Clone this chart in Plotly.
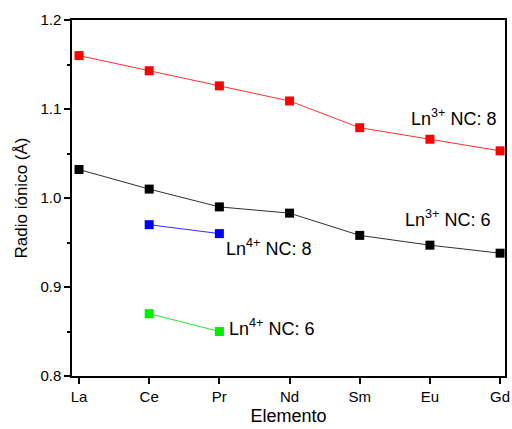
import plotly.graph_objects as go

elements = ["La", "Ce", "Pr", "Nd", "Sm", "Eu", "Gd"]
ln3_nc8 = [1.160, 1.143, 1.126, 1.109, 1.079, 1.066, 1.053]
ln3_nc6 = [1.032, 1.010, 0.990, 0.983, 0.958, 0.947, 0.938]
ln4_el = ["Ce", "Pr"]
ln4_nc8 = [0.970, 0.960]
ln4_nc6 = [0.870, 0.850]

xi = {e: i for i, e in enumerate(elements)}

fig = go.Figure()

def add(xs, ys, color, lcolor):
    fig.add_trace(go.Scatter(
        x=[xi[e] for e in xs], y=ys, mode="lines+markers",
        line=dict(color=lcolor, width=1),
        marker=dict(symbol="square", size=9, color=color, line=dict(width=0)),
        showlegend=False, cliponaxis=False))

add(elements, ln3_nc8, "#ff0000", "#ff3030")
add(elements, ln3_nc6, "#000000", "#303030")
add(ln4_el, ln4_nc8, "#0000ff", "#3030ff")
add(ln4_el, ln4_nc6, "#00ee00", "#30e030")

font = "Arial, 'Liberation Sans', sans-serif"
labels = [
    (4.70, 1.091, "Ln<sup>3+</sup> NC: 8"),
    (4.62, 0.977, "Ln<sup>3+</sup> NC: 6"),
    (2.06, 0.944, "Ln<sup>4+</sup> NC: 8"),
    (2.11, 0.854, "Ln<sup>4+</sup> NC: 6"),
]
for x, y, t in labels:
    fig.add_annotation(x=x, y=y, xref="x", yref="y", text=t, showarrow=False,
                       xanchor="left", yanchor="middle",
                       font=dict(family=font, size=18, color="black"))

fig.update_layout(
    width=512, height=429,
    margin=dict(l=72, r=2, t=20, b=53),
    plot_bgcolor="white", paper_bgcolor="white",
    font=dict(family=font, color="black"),
)
fig.update_xaxes(
    range=[-0.1, 6.07], tickvals=list(range(len(elements))), ticktext=elements,
    ticklabeloverflow="allow",
    showgrid=False, zeroline=False, showline=True, linecolor="black", linewidth=1.5,
    mirror=True, ticks="outside", ticklen=6, tickwidth=1.5, tickcolor="black",
    tickfont=dict(size=15), title=dict(text="Elemento", font=dict(size=18), standoff=6),
)
fig.update_yaxes(
    range=[0.8, 1.2], tickvals=[0.8, 0.9, 1.0, 1.1, 1.2],
    ticktext=["0.8", "0.9", "1.0", "1.1", "1.2"],
    showgrid=False, zeroline=False, showline=True, linecolor="black", linewidth=1.5,
    mirror=True, ticks="outside", ticklen=6, tickwidth=1.5, tickcolor="black",
    minor=dict(tickvals=[0.85, 0.95, 1.05, 1.15], ticks="outside", ticklen=3,
               tickwidth=1.5, tickcolor="black"),
    tickfont=dict(size=15), title=dict(text="Radio iónico (Å)", font=dict(size=17), standoff=8),
)

fig.write_html("out.html")
